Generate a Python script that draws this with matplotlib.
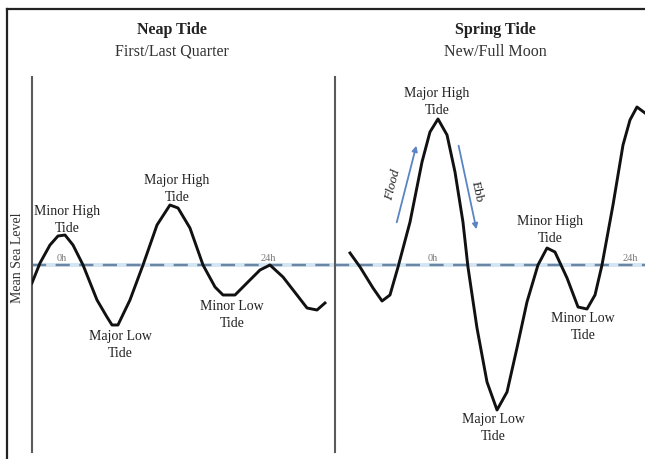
import matplotlib
matplotlib.use("Agg")
import matplotlib.pyplot as plt
from matplotlib.lines import Line2D

plt.rcParams['font.family'] = ['Liberation Serif', 'DejaVu Serif']

# Neap tide (first/last quarter): time in hours, height relative to mean sea level
neap_hours = [-3.5, -2.56, -1.40, -0.47, 0.35, 1.28, 2.45, 4.08, 5.24, 5.83, 6.52,
              7.92, 9.44, 11.07, 12.58, 13.52, 14.91, 16.43, 17.83, 18.76, 20.16,
              21.55, 23.07, 24.23, 25.75, 27.38, 28.55, 29.71, 30.64]
neap_level = [-1.8, 0.2, 2.0, 2.9, 3.0, 2.0, 0.0, -3.5, -5.2, -6.0, -6.0,
              -3.5, 0.0, 4.0, 6.0, 5.7, 3.7, 0.0, -2.2, -3.0, -3.0,
              -1.8, -0.5, 0.0, -1.2, -3.0, -4.3, -4.5, -3.8]

# Spring tide (new/full moon)
spring_hours = [-10.11, -8.89, -7.31, -6.21, -5.24, -4.26, -2.80, -1.34, -0.37, 0.61,
                1.71, 2.68, 3.65, 4.26, 5.36, 6.58, 7.80, 9.02, 10.23, 11.45, 12.79,
                13.89, 14.86, 16.33, 17.67, 18.76, 19.74, 20.59, 21.93, 23.15, 24.00,
                24.85, 25.83]
spring_level = [1.2, -0.2, -2.3, -3.6, -3.0, -0.2, 4.3, 10.3, 13.3, 14.6,
                13.0, 9.3, 4.3, -0.2, -6.3, -11.7, -14.5, -12.7, -8.3, -3.7, 0.0,
                1.7, 1.3, -1.3, -4.2, -4.4, -3.0, 0.0, 6.0, 12.0, 14.5,
                15.8, 15.2]

hour_marks = [0, 24]
hour_labels = ['0h', '24h']

neap_labels = ['Minor High\nTide', 'Major High\nTide', 'Major Low\nTide', 'Minor Low\nTide']
neap_label_pos = [(0.58, 4.5), (13.4, 7.6), (6.76, -8.0), (19.8, -5.0)]
spring_labels = ['Major High\nTide', 'Minor High\nTide', 'Minor Low\nTide', 'Major Low\nTide']
spring_label_pos = [(0.49, 16.3), (14.25, 3.5), (18.27, -6.2), (7.31, -16.3)]

fig = plt.figure(figsize=(6.45, 4.59), dpi=100)
fig.patch.set_facecolor('white')

ylim = (-18.7, 18.8)
ax1 = fig.add_axes([32 / 645, 7 / 459, 303 / 645, 375 / 459])
ax2 = fig.add_axes([335 / 645, 7 / 459, 310 / 645, 375 / 459])
ax1.set_xlim(-3.495, 31.81)
ax2.set_xlim(-11.94, 25.83)

panels = [(ax1, neap_hours, neap_level, neap_labels, neap_label_pos),
          (ax2, spring_hours, spring_level, spring_labels, spring_label_pos)]

for ax, hrs, lvl, labels, pos in panels:
    ax.set_ylim(*ylim)
    ax.patch.set_alpha(0)
    for s in ['top', 'right', 'bottom']:
        ax.spines[s].set_visible(False)
    ax.spines['left'].set_color('#5a5a5a')
    ax.spines['left'].set_linewidth(1.5)
    ax.set_xticks([])
    ax.set_yticks([])
    # mean sea level
    ax.axhline(0, color='#d3e4f3', lw=2.8, zorder=1)
    ax.axhline(0, color='#6a86a3', lw=1.7, dashes=(6, 4), zorder=2)
    ax.plot(hrs, lvl, color='#111111', lw=2.1, zorder=3, solid_joinstyle='round')
    for h, t in zip(hour_marks, hour_labels):
        ax.text(h, 0.2, t, ha='center', va='bottom', fontsize=7.5, color='#7a7a7a', zorder=2)
    for t, (x, y) in zip(labels, pos):
        ax.text(x, y, t, ha='center', va='center', fontsize=10, color='#222222',
                linespacing=1.35, clip_on=False)

# flood / ebb arrows
arrow_kw = dict(arrowstyle='-|>', color='#5b84c4', lw=1.3, mutation_scale=8)
ax2.annotate('', xy=(-1.95, 12.2), xytext=(-4.5, 4.0), arrowprops=arrow_kw)
ax2.annotate('', xy=(5.36, 3.3), xytext=(3.05, 12.2), arrowprops=arrow_kw)
ax2.text(-4.87, 8.0, 'Flood', rotation=76, ha='center', va='center',
         fontsize=9.5, style='italic', color='#222222')
ax2.text(5.36, 7.3, 'Ebb', rotation=-78, ha='center', va='center',
         fontsize=9.5, color='#222222')

# titles
fig.text(172 / 645, 1 - 30 / 459, 'Neap Tide', ha='center', va='center',
         fontsize=11.5, fontweight='bold', color='#222222')
fig.text(172 / 645, 1 - 52 / 459, 'First/Last Quarter', ha='center', va='center',
         fontsize=11.5, color='#333333')
fig.text(495 / 645, 1 - 30 / 459, 'Spring Tide', ha='center', va='center',
         fontsize=11.5, fontweight='bold', color='#222222')
fig.text(495 / 645, 1 - 52 / 459, 'New/Full Moon', ha='center', va='center',
         fontsize=11.5, color='#333333')
fig.text(18 / 645, 1 - 258 / 459, 'Mean Sea Level', rotation=90, ha='center',
         va='center', fontsize=10, color='#333333')

# outer frame (top and left edges)
fig.add_artist(Line2D([7 / 645, 1], [1 - 9 / 459, 1 - 9 / 459],
                      transform=fig.transFigure, color='#222222', lw=1.6))
fig.add_artist(Line2D([7 / 645, 7 / 645], [0, 1 - 9 / 459],
                      transform=fig.transFigure, color='#222222', lw=1.6))

fig.savefig('out.png', dpi=100)
